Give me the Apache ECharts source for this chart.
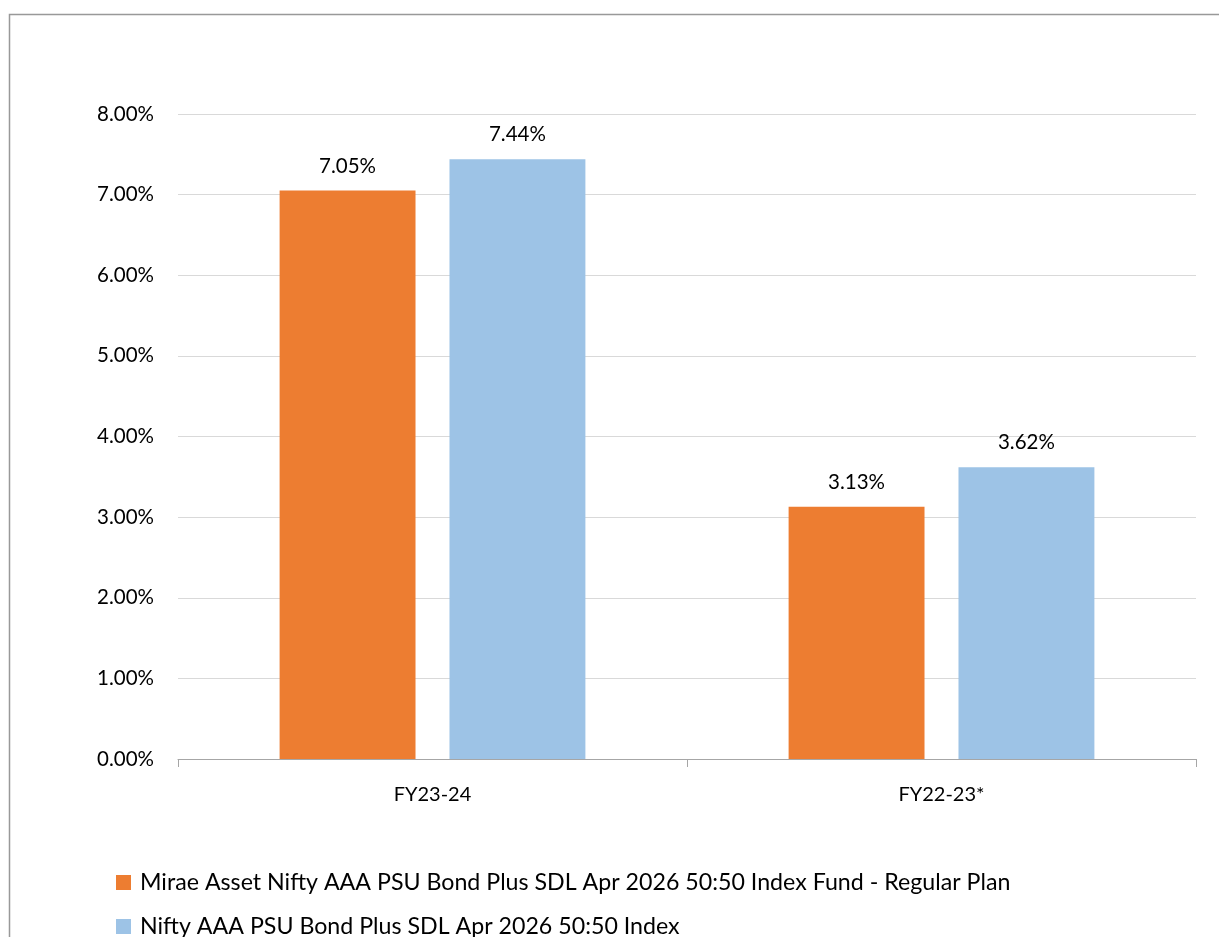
<!DOCTYPE html>
<html><head><meta charset="utf-8">
<script src="https://cdn.jsdelivr.net/npm/echarts@6/dist/echarts.min.js"></script>
<style>html,body{margin:0;padding:0;background:#fff}#c{width:1219px;height:937px}</style>
</head><body><div id="c"></div>
<script>
const categories = ['FY23-24', 'FY22-23*'];
const seriesNames = ['Mirae Asset Nifty AAA PSU Bond Plus SDL Apr 2026 50:50 Index Fund - Regular Plan', 'Nifty AAA PSU Bond Plus SDL Apr 2026 50:50 Index'];
const fundValues = [7.05, 3.13];
const indexValues = [7.44, 3.62];
const colors = ['#ED7D31', '#9DC3E6'];
const font = 'Lato, "Open Sans", sans-serif';

const chart = echarts.init(document.getElementById('c'), null, {renderer: 'canvas'});
const lbl = {show: true, position: 'top', distance: 14, color: '#000', fontSize: 20.5, fontFamily: font, formatter: p => p.value.toFixed(2) + '%'};
const legendBase = {orient: 'horizontal', left: 116, itemWidth: 15, itemHeight: 15, icon: 'rect', padding: 0,
  textStyle: {fontSize: 23.2, color: '#000', fontFamily: font, padding: [0, 0, 0, 4]}};
chart.setOption({
  animation: false,
  textStyle: {fontFamily: font},
  graphic: [{type: 'rect', shape: {x: 9.5, y: 14.5, width: 1230, height: 940}, style: {fill: 'none', stroke: '#999', lineWidth: 1.5}, silent: true}],
  grid: {left: 178, right: 23, top: 114, bottom: 178, containLabel: false},
  legend: [
    Object.assign({}, legendBase, {top: 871, data: [seriesNames[0]]}),
    Object.assign({}, legendBase, {top: 915, data: [seriesNames[1]]})
  ],
  xAxis: {
    type: 'category', data: categories,
    axisLine: {lineStyle: {color: '#A6A6A6', width: 1}},
    axisTick: {show: true, alignWithLabel: false, length: 8, lineStyle: {color: '#A6A6A6'}},
    axisLabel: {color: '#000', fontSize: 20, fontFamily: font, margin: 26}
  },
  yAxis: {
    type: 'value', min: 0, max: 8, interval: 1,
    axisLine: {show: false}, axisTick: {show: false},
    splitLine: {lineStyle: {color: '#D9D9D9', width: 1}},
    axisLabel: {color: '#000', fontSize: 20.5, fontFamily: font, margin: 24, formatter: v => v.toFixed(2) + '%'}
  },
  series: [
    {name: seriesNames[0], type: 'bar', data: fundValues, barWidth: '26.7%', barGap: '25%', itemStyle: {color: colors[0]}, label: lbl},
    {name: seriesNames[1], type: 'bar', data: indexValues, barWidth: '26.7%', itemStyle: {color: colors[1]}, label: lbl}
  ]
});
</script></body></html>
